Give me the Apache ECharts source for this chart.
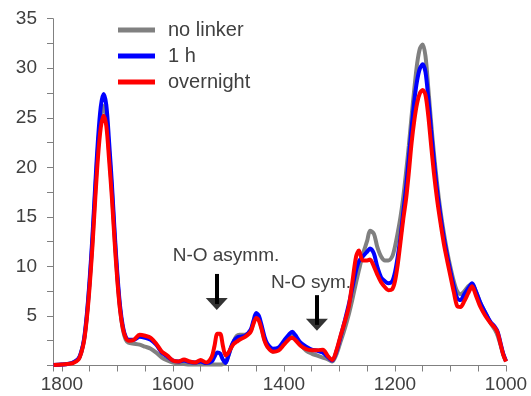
<!DOCTYPE html>
<html>
<head>
<meta charset="utf-8">
<script src="https://cdn.jsdelivr.net/npm/echarts@6/dist/echarts.min.js"></script>
<style>
  html, body { margin: 0; padding: 0; background: #fff; }
  #chart { width: 531px; height: 396px; }
</style>
</head>
<body>
<div id="chart"></div>
<script>
// wavenumber (cm-1)
const wavenumbers = [
  1815, 1800, 1790, 1780, 1770, 1765, 1760, 1755, 1750, 1745, 1740, 1735, 1730, 1725, 1720, 1715,
  1710, 1705, 1700, 1695, 1690, 1685, 1680, 1670, 1660, 1650, 1640, 1630, 1620, 1610, 1600, 1590,
  1580, 1570, 1560, 1550, 1540, 1530, 1525, 1520, 1515, 1510, 1505, 1500, 1495, 1490, 1485, 1480,
  1470, 1460, 1455, 1450, 1445, 1440, 1435, 1430, 1420, 1410, 1400, 1390, 1385, 1380, 1370, 1360,
  1350, 1340, 1330, 1320, 1313, 1305, 1298, 1290, 1283, 1277, 1270, 1265, 1258, 1250, 1245, 1238,
  1232, 1225, 1218, 1212, 1205, 1200, 1195, 1190, 1185, 1180, 1175, 1170, 1165, 1160, 1155, 1150,
  1145, 1140, 1135, 1130, 1124, 1118, 1112, 1106, 1100, 1094, 1088, 1082, 1075, 1068, 1061, 1055,
  1046, 1037, 1028, 1020, 1015, 1010, 1005, 1000
];
const noLinker = [
  0.05, 0.1, 0.15, 0.3, 0.65, 1.35, 2.6, 5.0, 8.4, 12.5, 17.5, 22.0, 25.0, 26.2, 25.2, 21.6,
  17.7, 13.0, 8.8, 5.6, 3.6, 2.6, 2.3, 2.2, 2.1, 1.9, 1.7, 1.3, 0.8, 0.5, 0.3, 0.2,
  0.15, 0.1, 0.1, 0.1, 0.1, 0.1, 0.1, 0.1, 0.1, 0.15, 0.3, 1.0, 1.8, 2.5, 3.0, 3.1,
  3.1, 3.5, 4.3, 5.0, 4.7, 3.7, 2.6, 2.0, 1.4, 1.6, 2.2, 2.9, 3.1, 2.8, 2.1, 1.5,
  1.2, 1.0, 0.8, 0.6, 0.4, 1.2, 2.4, 3.8, 5.2, 6.6, 8.4, 9.6, 11.2, 12.6, 13.6, 13.3,
  12.0, 11.0, 10.6, 10.6, 11.0, 12.0, 13.4, 15.0, 17.0, 19.5, 22.2, 25.2, 28.0, 30.5, 32.0, 32.4,
  31.2, 28.0, 24.6, 21.5, 18.3, 15.6, 13.4, 11.5, 9.9, 8.5, 7.5, 7.2, 7.5, 8.0, 8.2, 7.6,
  6.3, 5.3, 4.3, 3.6, 3.0, 2.1, 1.1, 0.4
];
const oneHour = [
  0.05, 0.1, 0.15, 0.3, 0.7, 1.4, 2.7, 5.2, 8.7, 13.0, 18.1, 22.8, 26.1, 27.4, 26.3, 22.6,
  18.4, 13.5, 9.2, 5.9, 3.9, 2.9, 2.6, 2.6, 2.9, 2.8, 2.6, 2.1, 1.3, 0.9, 0.5, 0.4,
  0.5, 0.35, 0.3, 0.4, 0.25, 0.4, 0.9, 1.3, 1.2, 0.6, 0.25, 1.0, 1.9, 2.5, 2.8, 2.9,
  3.0, 3.6, 4.5, 5.3, 5.0, 4.0, 2.9, 2.2, 1.7, 1.8, 2.5, 3.2, 3.4, 3.1, 2.3, 1.9,
  1.6, 1.5, 1.3, 0.8, 0.5, 1.5, 2.9, 4.6, 6.2, 7.8, 9.6, 10.5, 11.0, 11.5, 11.8, 11.3,
  10.0, 8.9, 8.5, 8.3, 8.5, 9.4, 11.0, 13.0, 15.5, 18.0, 21.0, 24.0, 26.8, 28.8, 30.0, 30.4,
  29.6, 27.0, 23.8, 20.8, 17.6, 15.1, 12.9, 11.1, 9.5, 8.0, 6.8, 6.6, 7.2, 7.8, 8.3, 7.6,
  6.3, 5.3, 4.4, 3.9, 3.4, 2.3, 1.2, 0.45
];
const overnight = [
  0.05, 0.1, 0.15, 0.25, 0.6, 1.3, 2.5, 4.8, 8.0, 12.0, 16.7, 21.0, 24.0, 25.2, 24.2, 20.8,
  17.0, 12.5, 8.5, 5.5, 3.7, 2.8, 2.5, 2.6, 3.1, 3.0, 2.8, 2.2, 1.4, 1.0, 0.5, 0.4,
  0.6, 0.4, 0.3, 0.55, 0.3, 0.9, 2.0, 3.2, 3.2, 2.0, 1.0, 1.3, 1.8, 2.2, 2.4, 2.6,
  2.9, 3.4, 4.2, 4.8, 4.5, 3.6, 2.5, 1.9, 1.4, 1.5, 2.1, 2.7, 2.8, 2.6, 2.0, 1.65,
  1.55, 1.55, 1.6, 0.9, 0.55, 1.6, 3.0, 4.5, 6.0, 8.3, 11.0, 11.6, 10.6, 10.6, 10.7, 10.0,
  9.2, 8.4, 7.9, 7.6, 7.7, 8.5, 10.2, 12.5, 14.8, 16.8, 19.5, 22.5, 24.8, 26.5, 27.5, 27.8,
  27.3, 25.2, 22.3, 19.5, 16.7, 14.4, 12.3, 10.6, 9.0, 7.4, 6.0, 5.9, 6.5, 7.3, 8.0, 7.2,
  5.9, 5.0, 4.3, 3.8, 3.3, 2.2, 1.1, 0.4
];
const seriesNames = ['no linker', '1 h', 'overnight'];
const seriesColors = ['#808080', '#0000ff', '#ff0000'];
// arrows: [wavenumber, shaft top, head centre]
const arrows = [
  [1521, 9.24, 6.2],
  [1340.6, 7.1, 4.1]
];

const FONT = '"Liberation Sans", Arial, sans-serif';
const TEXT = '#404040';
const AXIS = '#808080';

const zip = (vals) => wavenumbers.map((w, i) => [w, vals[i]]);

const chart = echarts.init(document.getElementById('chart'));

const series = [noLinker, oneHour, overnight].map((vals, i) => ({
  name: seriesNames[i],
  type: 'line',
  data: zip(vals),
  symbol: 'none',
  smooth: 0.3,
  z: 2 + i,
  lineStyle: { color: seriesColors[i], width: 4 },
  itemStyle: { color: seriesColors[i] },
  emphasis: { disabled: true },
  silent: true
}));

// arrow shafts
series[2].markLine = {
  silent: true,
  animation: false,
  symbol: ['none', 'none'],
  label: { show: false },
  emphasis: { disabled: true },
  lineStyle: { color: '#000', width: 4, type: 'solid' },
  data: arrows.map(a => [{ coord: [a[0], a[1]] }, { coord: [a[0], a[2]] }])
};

// arrow heads
series.push({
  name: 'arrowheads',
  type: 'scatter',
  data: arrows.map(a => [a[0], a[2]]),
  symbol: 'triangle',
  symbolRotate: 180,
  symbolSize: [22, 12],
  itemStyle: { color: '#000' },
  z: 10,
  silent: true,
  emphasis: { disabled: true }
});

chart.setOption({
  animation: false,
  grid: { left: 53, right: 25, top: 18.7, bottom: 30.5 },
  legend: {
    data: seriesNames,
    orient: 'vertical',
    left: 113,
    top: 15,
    icon: 'rect',
    itemWidth: 37,
    itemHeight: 5,
    itemGap: 6,
    selectedMode: false,
    textStyle: { fontFamily: FONT, fontSize: 20, lineHeight: 20, color: TEXT, padding: [0, 0, 0, 8] }
  },
  xAxis: {
    type: 'value',
    inverse: true,
    min: 1000,
    max: 1816,
    interval: 50,
    splitLine: { show: false },
    axisLine: { lineStyle: { color: AXIS, width: 1 } },
    axisTick: { show: true, length: 6, lineStyle: { color: AXIS } },
    axisLabel: {
      fontFamily: FONT, fontSize: 19, color: TEXT, margin: 10,
      formatter: v => (v % 200 === 0 ? String(v) : '')
    }
  },
  yAxis: {
    type: 'value',
    min: 0,
    max: 35,
    interval: 2.5,
    splitLine: { show: false },
    axisLine: { show: true, lineStyle: { color: AXIS, width: 1 } },
    axisTick: { show: true, length: 6, lineStyle: { color: AXIS } },
    axisLabel: {
      fontFamily: FONT, fontSize: 19, color: TEXT, margin: 16,
      formatter: v => (v % 5 === 0 && v !== 0 ? String(v) : '')
    }
  },
  graphic: [
    { type: 'text', x: 226, y: 256, silent: true,
      style: { text: 'N-O asymm.', fontFamily: FONT, fontSize: 19, fill: TEXT, align: 'center', verticalAlign: 'middle' } },
    { type: 'text', x: 311, y: 282.5, silent: true,
      style: { text: 'N-O sym.', fontFamily: FONT, fontSize: 19, fill: TEXT, align: 'center', verticalAlign: 'middle' } }
  ],
  series: series
});
</script>
</body>
</html>
